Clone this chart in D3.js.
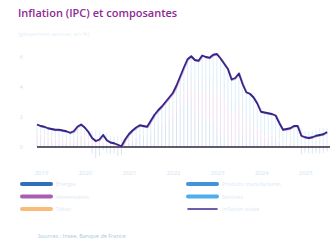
<!DOCTYPE html>
<html>
<head>
<meta charset="utf-8" />
<title>Inflation (IPC) et composantes</title>
<script src="https://d3js.org/d3.v7.min.js"></script>
<style>
  body { margin: 0; background: #fff; }
  svg text { font-family: "Open Sans", Arial, sans-serif; }
  .axis text { fill: #d3e3ef; font-size: 6px; }
  .axis path, .axis line { display: none; }
</style>
</head>
<body>
<div id="chart"></div>
<script>
// monthly, janvier 2019 -> août 2025
var years = ["2019", "2020", "2021", "2022", "2023", "2024", "2025"];

var inflation = [
  1.5, 1.4, 1.35, 1.25, 1.2, 1.15, 1.15, 1.1, 1.05, 0.95, 1.05, 1.35,
  1.5, 1.3, 1.0, 0.6, 0.4, 0.5, 0.8, 0.45, 0.3, 0.25, 0.15, 0.05,
  0.5, 0.85, 1.1, 1.3, 1.45, 1.4, 1.35, 1.75, 2.15, 2.45, 2.7, 3.0,
  3.3, 3.6, 4.1, 4.7, 5.3, 5.85, 6.05, 5.8, 5.75, 6.1, 6.0, 5.95,
  6.15, 6.2, 5.9, 5.55, 5.2, 4.5, 4.6, 4.9, 4.2, 3.65, 3.55, 3.3,
  2.9, 2.35, 2.3, 2.25, 2.2, 2.1, 1.6, 1.15, 1.2, 1.25, 1.4, 1.4,
  0.75, 0.65, 0.6, 0.65, 0.75, 0.8, 0.85, 1.0
];

var energie = [
  0.55, 0.45, 0.4, 0.25, 0.2, 0.1, 0.15, 0.15, 0.15, 0.1, 0.15, 0.45,
  0.45, 0.25, 0.0, -0.45, -0.75, -0.6, -0.2, -0.3, -0.4, -0.4, -0.55, -0.55,
  -0.1, 0.2, 0.4, 0.6, 0.8, 0.7, 0.55, 0.75, 1.1, 1.35, 1.45, 1.6,
  1.8, 1.95, 2.3, 2.6, 2.85, 3.1, 3.05, 2.6, 2.25, 2.15, 1.8, 1.55,
  1.55, 1.4, 0.9, 0.75, 0.55, 0.05, 0.3, 0.95, 0.8, 0.5, 0.6, 0.6,
  0.35, 0.1, 0.1, 0.3, 0.45, 0.45, 0.3, 0.0, 0.05, 0.1, 0.2, 0.15,
  -0.45, -0.3, -0.35, -0.35, -0.3, -0.35, -0.3, -0.25
];

var alimentation = [
  0.35, 0.35, 0.35, 0.4, 0.4, 0.4, 0.35, 0.3, 0.3, 0.25, 0.3, 0.3,
  0.3, 0.35, 0.35, 0.5, 0.6, 0.5, 0.3, 0.25, 0.2, 0.25, 0.3, 0.2,
  0.15, 0.1, 0.1, 0.05, 0.05, 0.1, 0.1, 0.15, 0.15, 0.15, 0.2, 0.25,
  0.3, 0.35, 0.4, 0.55, 0.75, 0.9, 1.0, 1.1, 1.3, 1.6, 1.75, 1.85,
  2.0, 2.2, 2.4, 2.3, 2.2, 2.0, 1.9, 1.7, 1.3, 1.1, 1.0, 0.9,
  0.8, 0.6, 0.5, 0.4, 0.3, 0.3, 0.1, 0.1, 0.1, 0.1, 0.1, 0.1,
  0.1, 0.1, 0.1, 0.1, 0.1, 0.15, 0.15, 0.15
];

var tabac = [
  0.1, 0.1, 0.1, 0.1, 0.1, 0.1, 0.1, 0.1, 0.1, 0.1, 0.1, 0.1,
  0.15, 0.15, 0.15, 0.15, 0.15, 0.15, 0.15, 0.15, 0.15, 0.1, 0.1, 0.1,
  0.1, 0.1, 0.1, 0.1, 0.05, 0.05, 0.05, 0.05, 0.05, 0.05, 0.05, 0.05,
  0.05, 0.05, 0.05, 0.05, 0.05, 0.05, 0.05, 0.05, 0.05, 0.05, 0.05, 0.05,
  0.05, 0.05, 0.05, 0.05, 0.05, 0.05, 0.05, 0.05, 0.05, 0.05, 0.05, 0.05,
  0.1, 0.1, 0.1, 0.1, 0.1, 0.1, 0.1, 0.05, 0.05, 0.05, 0.05, 0.05,
  0.05, 0.05, 0.05, 0.05, 0.05, 0.05, 0.05, 0.05
];

var manufactures = [
  0.0, 0.0, 0.0, 0.0, 0.0, -0.05, -0.05, -0.05, -0.05, -0.05, -0.05, 0.0,
  0.0, 0.0, 0.0, 0.0, 0.0, 0.0, 0.05, -0.1, -0.05, -0.05, -0.05, 0.0,
  0.0, 0.05, 0.05, 0.05, 0.05, 0.05, 0.1, 0.15, 0.15, 0.15, 0.2, 0.25,
  0.3, 0.35, 0.4, 0.5, 0.6, 0.7, 0.75, 0.8, 0.95, 1.0, 1.1, 1.2,
  1.2, 1.2, 1.2, 1.1, 1.1, 1.0, 0.9, 0.8, 0.7, 0.6, 0.5, 0.4,
  0.3, 0.25, 0.2, 0.15, 0.1, 0.05, 0.0, 0.0, -0.05, -0.05, -0.05, 0.0,
  -0.05, -0.1, -0.1, -0.1, -0.1, -0.1, -0.1, -0.05
];

var services = [
  0.5, 0.5, 0.5, 0.5, 0.5, 0.55, 0.55, 0.55, 0.5, 0.5, 0.5, 0.5,
  0.6, 0.55, 0.5, 0.4, 0.4, 0.45, 0.5, 0.45, 0.4, 0.35, 0.35, 0.3,
  0.35, 0.4, 0.45, 0.5, 0.5, 0.5, 0.55, 0.65, 0.7, 0.75, 0.8, 0.85,
  0.85, 0.9, 0.95, 1.0, 1.05, 1.1, 1.2, 1.25, 1.2, 1.3, 1.3, 1.3,
  1.35, 1.35, 1.35, 1.35, 1.3, 1.4, 1.45, 1.4, 1.35, 1.4, 1.4, 1.35,
  1.35, 1.3, 1.4, 1.3, 1.25, 1.2, 1.1, 1.0, 1.05, 1.05, 1.1, 1.1,
  1.1, 0.9, 0.9, 0.95, 1.0, 1.05, 1.05, 1.1
];

var seriesNames = ["Énergie", "Alimentation", "Tabac", "Produits manufacturés", "Services"];
var seriesColors = ["#1b5fb3", "#a34cab", "#f7b66a", "#2f87d7", "#3aa6ea"];
var lineName = "Inflation totale";
var yTicks = [0, 2, 4, 6];

var width = 336, height = 241;
var svg = d3.select("#chart").append("svg")
  .attr("width", width)
  .attr("height", height);

// title
svg.append("text")
  .attr("x", 18).attr("y", 17)
  .attr("font-size", 11).attr("font-weight", 600)
  .attr("fill", "#8e2a94")
  .text("Inflation (IPC) et composantes");
svg.append("text")
  .attr("x", 18).attr("y", 36)
  .attr("font-size", 6).attr("fill", "#e6eff6")
  .text("(glissement annuel, en %)");

var x = d3.scaleLinear().domain([0, inflation.length - 1]).range([37, 327]);
var y = d3.scaleLinear().domain([-1, 7]).range([162, 42]);

var table = inflation.map(function (v, i) {
  return {
    i: i,
    "Énergie": energie[i],
    "Alimentation": alimentation[i],
    "Tabac": tabac[i],
    "Produits manufacturés": manufactures[i],
    "Services": services[i]
  };
});

var stack = d3.stack().keys(seriesNames)
  .offset(d3.stackOffsetDiverging);
var layers = stack(table);

svg.append("g")
  .selectAll("g")
  .data(layers)
  .join("g")
  .attr("fill", function (d, k) { return seriesColors[k]; })
  .attr("opacity", 0.16)
  .selectAll("rect")
  .data(function (d) { return d; })
  .join("rect")
  .attr("x", function (d) { return x(d.data.i) - 0.5; })
  .attr("width", 1)
  .attr("y", function (d) { return y(Math.max(d[0], d[1])); })
  .attr("height", function (d) { return Math.abs(y(d[0]) - y(d[1])); });

// axes (faint labels)
var yaxis = d3.axisLeft(y).tickValues(yTicks).tickSize(0);
svg.append("g").attr("class", "axis")
  .attr("transform", "translate(26,0)")
  .call(yaxis);

var xaxis = d3.axisBottom(x)
  .tickValues(years.map(function (d, k) { return k * 12; }))
  .tickFormat(function (d) { return years[d / 12]; })
  .tickSize(0);
svg.append("g").attr("class", "axis")
  .attr("transform", "translate(4,168)")
  .call(xaxis);

// zero line
svg.append("line")
  .attr("x1", 37).attr("x2", 330)
  .attr("y1", y(0)).attr("y2", y(0))
  .attr("stroke", "#2a2a3a").attr("stroke-width", 1.4);

var line = d3.line()
  .x(function (d, i) { return x(i); })
  .y(function (d) { return y(d); });

svg.append("path")
  .datum(inflation)
  .attr("fill", "none")
  .attr("stroke", "#c0509a")
  .attr("stroke-width", 2)
  .attr("opacity", 0.45)
  .attr("transform", "translate(0.6,0.4)")
  .attr("d", line);

svg.append("path")
  .datum(inflation)
  .attr("fill", "none")
  .attr("stroke", "#33268a")
  .attr("stroke-width", 1.8)
  .attr("stroke-linejoin", "round")
  .attr("d", line);

// legend
var legendItems = seriesNames.map(function (n, k) { return { name: n, color: seriesColors[k], isLine: false }; });
legendItems.push({ name: lineName, color: "#3a2b8f", isLine: true });

var legend = svg.append("g");
legendItems.forEach(function (d, k) {
  var col = k < 3 ? 0 : 1;
  var row = k % 3;
  var lx = col === 0 ? 22 : 188;
  var ly = 184 + row * 12.5;
  legend.append("line")
    .attr("x1", lx).attr("x2", lx + 29)
    .attr("y1", ly).attr("y2", ly)
    .attr("stroke", d.color)
    .attr("stroke-width", d.isLine ? 1.6 : 4)
    .attr("stroke-linecap", "round")
    .attr("opacity", d.isLine ? 1 : 0.9);
  legend.append("text")
    .attr("x", lx + 34).attr("y", ly + 2)
    .attr("font-size", 5.5).attr("fill", "#dce9f3")
    .text(d.name);
});

svg.append("text")
  .attr("x", 38).attr("y", 238)
  .attr("font-size", 5.5).attr("fill", "#a9c8d8")
  .text("Sources : Insee, Banque de France");
</script>
</body>
</html>
